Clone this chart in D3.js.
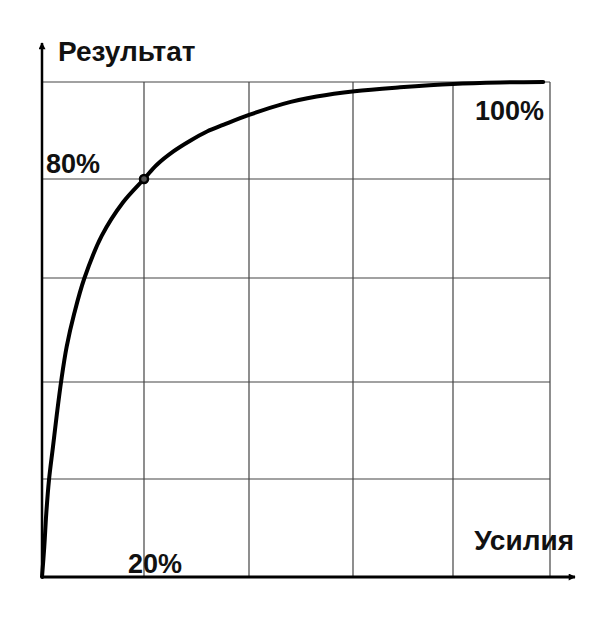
<!DOCTYPE html>
<html><head><meta charset="utf-8">
<script src="https://cdn.jsdelivr.net/npm/d3@7"></script>
<style>html,body{margin:0;padding:0;background:#fff;}svg{display:block;}</style>
</head><body>
<svg id="chart" width="600" height="621"></svg>
<script>
// Data (percent of effort vs percent of result)
const effort = [0, 0.45, 0.84, 1.37, 2.16, 2.94, 3.78, 4.84, 6.33, 8.29, 11.7, 15.9, 20,
                22.4, 25.6, 28.8, 32.0, 35.2, 40, 46.6, 53.0, 60.3, 69.4, 80, 89.7, 98.6];
const result = [0, 6.2, 13.0, 19.8, 26.7, 33.6, 40.3, 46.8, 53.2, 59.9, 68.5, 75.3, 80,
                82.9, 85.7, 87.9, 89.8, 91.2, 93.2, 95.5, 97.0, 98.1, 98.9, 99.6, 99.9, 100];
const gridTicks = [0, 20, 40, 60, 80, 100];
const xAxisTitle = "Усилия";
const yAxisTitle = "Результат";
const marker = {effort: 20, result: 80};
const labels = [
  {text: "80%", effort: 0, result: 80},
  {text: "20%", effort: 20, result: 0},
  {text: "100%", effort: 100, result: 100}
];

const svg = d3.select("#chart");
const x = d3.scaleLinear().domain(gridTicks).range([42, 144, 249, 353, 453, 550]);
const y = d3.scaleLinear().domain(gridTicks).range([577, 479, 382, 278, 179, 82]);

const defs = svg.append("defs");
defs.append("marker").attr("id", "arr").attr("viewBox", "0 0 10 10")
  .attr("refX", 9).attr("refY", 5).attr("markerWidth", 10).attr("markerHeight", 7)
  .attr("markerUnits", "userSpaceOnUse").attr("orient", "auto")
  .append("path").attr("d", "M0,0 L10,5 L0,10 Z").attr("fill", "#000");

// grid
svg.append("g").selectAll("line").data(gridTicks.slice(1)).join("line")
  .attr("x1", d => x(d)).attr("x2", d => x(d))
  .attr("y1", y(100)).attr("y2", y(0))
  .attr("stroke", "#444").attr("stroke-width", 1.2);
svg.append("g").selectAll("line").data(gridTicks.slice(1)).join("line")
  .attr("x1", x(0)).attr("x2", x(100))
  .attr("y1", d => y(d)).attr("y2", d => y(d))
  .attr("stroke", "#444").attr("stroke-width", 1.2);

// axes
svg.append("line").attr("x1", x(0)).attr("y1", y(0)).attr("x2", 575).attr("y2", y(0))
  .attr("stroke", "#000").attr("stroke-width", 3).attr("marker-end", "url(#arr)");
svg.append("line").attr("x1", x(0)).attr("y1", y(0)).attr("x2", x(0)).attr("y2", 43)
  .attr("stroke", "#000").attr("stroke-width", 2.5).attr("marker-end", "url(#arr)");

// curve
const pts = effort.map((e, i) => [e, result[i]]);
svg.append("path").datum(pts)
  .attr("d", d3.line().x(d => x(d[0])).y(d => y(d[1])).curve(d3.curveCatmullRom.alpha(0.5)))
  .attr("fill", "none").attr("stroke", "#000").attr("stroke-width", 4)
  .attr("stroke-linejoin", "round").attr("stroke-linecap", "round");

// marker point
svg.append("circle").attr("cx", x(marker.effort)).attr("cy", y(marker.result)).attr("r", 4)
  .attr("fill", "#555").attr("stroke", "#000").attr("stroke-width", 2.5);

const font = "'Liberation Sans', Arial, sans-serif";
// titles
svg.append("text").attr("x", 58).attr("y", 61).text(yAxisTitle)
  .attr("font-family", font).attr("font-weight", "bold").attr("font-size", 28).attr("fill", "#111");
svg.append("text").attr("x", 574).attr("y", 550).attr("text-anchor", "end").text(xAxisTitle)
  .attr("font-family", font).attr("font-weight", "bold").attr("font-size", 28).attr("fill", "#111");

// value labels
const lab = svg.append("g").attr("font-family", font).attr("font-weight", "bold")
  .attr("font-size", 27).attr("fill", "#111");
lab.append("text").attr("x", x(labels[0].effort) + 4).attr("y", y(labels[0].result) - 6).text(labels[0].text);
lab.append("text").attr("x", x(labels[1].effort) - 16).attr("y", y(labels[1].result) - 4).text(labels[1].text);
lab.append("text").attr("x", x(labels[2].effort) - 6).attr("y", y(labels[2].result) + 38)
  .attr("text-anchor", "end").text(labels[2].text);
</script>
</body></html>
